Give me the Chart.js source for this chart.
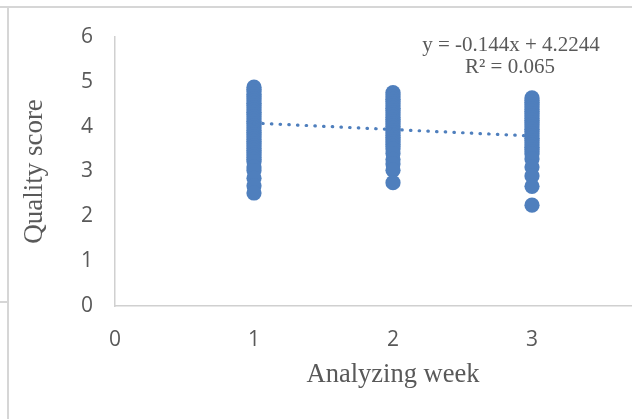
<!DOCTYPE html>
<html><head><meta charset="utf-8">
<script src="https://cdn.jsdelivr.net/npm/chart.js@4/dist/chart.umd.min.js"></script>
<style>
html,body{margin:0;padding:0;background:#fff;overflow:hidden;width:632px;height:419px;}
#wrap{position:relative;width:632px;height:419px;overflow:hidden;background:#fff;}
canvas{position:absolute;left:0;top:0;}
.ln{position:absolute;background:#d6d6d6;}
</style></head><body>
<div id="wrap">
<canvas id="c" width="700" height="419"></canvas>
<div class="ln" style="left:0;top:6px;width:632px;height:2px"></div>
<div class="ln" style="left:7px;top:6px;width:2px;height:413px"></div>
<div class="ln" style="left:0;top:301px;width:8px;height:2px"></div>
</div>
<script>
// Data
const xTickLabels = ['0', '1', '2', '3', '4'];
const yTickLabels = ['0', '1', '2', '3', '4', '5', '6'];
const week1Scores = [4.88, 4.83, 4.78, 4.72, 4.67, 4.62, 4.57, 4.52, 4.47, 4.42, 4.37, 4.32, 4.27, 4.22, 4.17, 4.12, 4.07, 4.02, 3.97, 3.92, 3.87, 3.82, 3.77, 3.72, 3.67, 3.62, 3.57, 3.52, 3.47, 3.42, 3.37, 3.32, 3.27, 3.22, 3.1, 3.02, 2.85, 2.68, 2.52];
const week2Scores = [4.76, 4.71, 4.66, 4.61, 4.56, 4.51, 4.46, 4.41, 4.36, 4.31, 4.26, 4.21, 4.16, 4.11, 4.06, 4.01, 3.96, 3.91, 3.86, 3.81, 3.76, 3.71, 3.66, 3.61, 3.56, 3.5, 3.4, 3.27, 3.17, 3.03, 2.75];
const week3Scores = [4.64, 4.59, 4.54, 4.49, 4.44, 4.39, 4.34, 4.29, 4.24, 4.19, 4.14, 4.09, 4.04, 3.99, 3.94, 3.89, 3.84, 3.79, 3.74, 3.69, 3.64, 3.59, 3.54, 3.49, 3.44, 3.39, 3.28, 3.1, 2.9, 2.67, 2.25];
const trendX = [1, 3];
const trendY = [4.0804, 3.7924];
const equationLines = ['y = -0.144x + 4.2244', 'R\u00B2 = 0.065'];

const blue = '#4f7fbd';
const grey = '#595959';

const points = []
  .concat(week1Scores.map(v => ({x: 1, y: v})))
  .concat(week2Scores.map(v => ({x: 2, y: v})))
  .concat(week3Scores.map(v => ({x: 3, y: v})));
const trendPoints = trendX.map((x, i) => ({x: x, y: trendY[i]}));

const eqPlugin = {
  id: 'equation',
  afterDatasetsDraw(chart) {
    const ctx = chart.ctx;
    ctx.save();
    ctx.font = '21px "Liberation Serif", "Times New Roman", serif';
    ctx.fillStyle = grey;
    ctx.textAlign = 'center';
    ctx.textBaseline = 'alphabetic';
    ctx.fillText(equationLines[0], 511, 51);
    ctx.fillText(equationLines[1], 510, 73);
    ctx.restore();
  }
};

new Chart(document.getElementById('c'), {
  type: 'scatter',
  data: {
    datasets: [
      {
        type: 'line',
        data: trendPoints,
        borderColor: blue,
        borderWidth: 3.2,
        borderDash: [0.5, 8.2],
        borderCapStyle: 'round',
        pointRadius: 0,
        fill: false,
        tension: 0
      },
      {
        data: points,
        backgroundColor: blue,
        borderWidth: 0,
        pointRadius: 7.6,
        pointHoverRadius: 7.6
      }
    ]
  },
  options: {
    responsive: false,
    animation: false,
    events: [],
    layout: {padding: {left: 19, top: 37, right: 29, bottom: 28}},
    plugins: {legend: {display: false}, tooltip: {enabled: false}},
    scales: {
      x: {
        type: 'linear', min: 0, max: 4,
        afterBuildTicks(s) { s.ticks = xTickLabels.map(t => ({value: Number(t)})); },
        afterFit(s) { s.height = 85; },
        grid: {display: false, drawTicks: false},
        border: {display: true, color: '#d0d0d0', width: 1.5},
        ticks: {
          padding: 21, color: grey,
          font: {family: '"Open Sans", sans-serif', size: 21},
          callback: (v) => String(v)
        },
        title: {
          display: true, text: 'Analyzing week', color: grey, padding: 0,
          font: {family: '"Liberation Serif", "Times New Roman", serif', size: 26.5}
        }
      },
      y: {
        type: 'linear', min: 0, max: 6,
        afterBuildTicks(s) { s.ticks = yTickLabels.map(t => ({value: Number(t)})); },
        afterFit(s) { s.width = 96; },
        grid: {display: false, drawTicks: false},
        border: {display: true, color: '#d0d0d0', width: 1.5},
        ticks: {
          padding: 22, color: grey,
          font: {family: '"Open Sans", sans-serif', size: 21},
          callback: (v) => String(v)
        },
        title: {
          display: true, text: 'Quality score', color: grey, padding: 0,
          font: {family: '"Liberation Serif", "Times New Roman", serif', size: 27}
        }
      }
    }
  },
  plugins: [eqPlugin]
});
</script>
</body></html>
